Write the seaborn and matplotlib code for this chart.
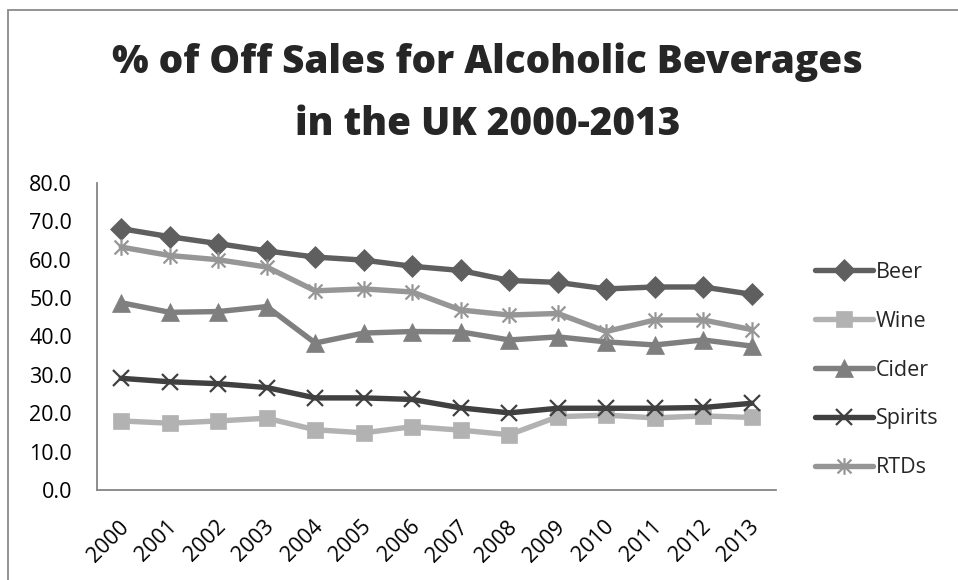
import matplotlib
matplotlib.use("Agg")
import matplotlib.pyplot as plt
from matplotlib.path import Path
from matplotlib.patches import Rectangle
from matplotlib.colors import to_hex
from matplotlib.transforms import ScaledTranslation
import pandas as pd
import seaborn as sns

years = [str(y) for y in range(2000, 2014)]
beer = [68.1, 66.0, 64.2, 62.3, 60.7, 59.9, 58.3, 57.2, 54.6, 54.1, 52.4, 52.9, 52.9, 51.0]
wine = [18.0, 17.4, 18.0, 18.7, 15.7, 14.9, 16.5, 15.6, 14.4, 19.1, 19.5, 18.8, 19.3, 18.9]
cider = [48.8, 46.3, 46.5, 47.8, 38.3, 40.9, 41.3, 41.2, 39.1, 39.9, 38.6, 37.8, 39.1, 37.5]
spirits = [29.1, 28.2, 27.7, 26.7, 24.0, 24.0, 23.6, 21.4, 20.1, 21.3, 21.3, 21.3, 21.5, 22.6]
rtds = [63.3, 61.1, 60.0, 58.1, 51.9, 52.4, 51.6, 46.9, 45.6, 46.0, 41.3, 44.3, 44.3, 41.8]

series = ["Beer", "Wine", "Cider", "Spirits", "RTDs"]
colors = {"Beer": "#5f5f5f", "Wine": "#b2b2b2", "Cider": "#7f7f7f",
          "Spirits": "#404040", "RTDs": "#969696"}

# excel style star: an x with a vertical stroke
star = Path([(-1, -1), (1, 1), (-1, 1), (1, -1), (0, -1.2), (0, 1.2)],
            [Path.MOVETO, Path.LINETO, Path.MOVETO, Path.LINETO, Path.MOVETO, Path.LINETO])
markers = {"Beer": "D", "Wine": "s", "Cider": "^", "Spirits": "x", "RTDs": star}
msize = {"Beer": 11, "Wine": 12, "Cider": 12.5, "Spirits": 11, "RTDs": 12}

df = pd.DataFrame({"Year": years, "Beer": beer, "Wine": wine, "Cider": cider,
                   "Spirits": spirits, "RTDs": rtds})
long = df.melt(id_vars="Year", var_name="Drink", value_name="Pct")

sns.set_style("white")
plt.rcParams["font.family"] = ["Open Sans", "DejaVu Sans"]

fig = plt.figure(figsize=(9.58, 5.8), dpi=100)
ax = fig.add_axes([97 / 958, 1 - 490 / 580, (776 - 97) / 958, (490 - 183) / 580])

sns.lineplot(data=long, x="Year", y="Pct", hue="Drink", hue_order=series,
             palette=colors, linewidth=3.9, legend=False, sort=False, ax=ax)

lookup = {to_hex(c): n for n, c in colors.items()}
handles = []
for line in ax.lines:
    name = lookup.get(to_hex(line.get_color()))
    if name is None:
        continue
    line.set_label(name)
    line.set_marker(markers[name])
    line.set_markersize(msize[name])
    line.set_markeredgecolor(line.get_color())
    line.set_markerfacecolor(line.get_color())
    line.set_markeredgewidth(1.6 if name in ("Spirits", "RTDs") else 0.5)
    handles.append(line)
handles.sort(key=lambda h: series.index(h.get_label()))

ax.set_ylim(0, 80)
ax.set_yticks(range(0, 81, 10))
ax.set_yticklabels([f"{v:.1f}" for v in range(0, 81, 10)])
ax.set_xlim(-0.5, 13.5)
ax.set_xlabel("")
ax.set_ylabel("")
ax.tick_params(axis="y", length=0, pad=18, labelsize=15.5, colors="black")
ax.tick_params(axis="x", length=0, pad=19, labelsize=15.5, colors="black")
shift = ScaledTranslation(-3 / 100, 0, fig.dpi_scale_trans)
for lab in ax.get_xticklabels():
    lab.set_rotation(45)
    lab.set_ha("right")
    lab.set_rotation_mode("anchor")
    lab.set_transform(lab.get_transform() + shift)
for s in ["top", "right"]:
    ax.spines[s].set_visible(False)
for s in ["left", "bottom"]:
    ax.spines[s].set_color("#868686")
    ax.spines[s].set_linewidth(1.3)

ax.legend(handles=handles, labels=series, loc="center left",
          bbox_to_anchor=(806 / 958, 1 - 370 / 580), bbox_transform=fig.transFigure,
          frameon=False, fontsize=15.5, handlelength=2.7, handletextpad=0.15,
          labelspacing=1.3, borderaxespad=0)

fig.text(0.509, 1 - 62 / 580, "% of Off Sales for Alcoholic Beverages",
         ha="center", va="center", fontsize=27.8, fontweight=800)
fig.text(0.509, 1 - 125 / 580, "in the UK 2000-2013",
         ha="center", va="center", fontsize=27.8, fontweight=800)

fig.patches.append(Rectangle((8 / 958, -0.1), 1.2, 1.1 - 10 / 580,
                             transform=fig.transFigure, fill=False,
                             edgecolor="#8a8a8a", linewidth=1.3))

fig.savefig("out.png", dpi=100)
